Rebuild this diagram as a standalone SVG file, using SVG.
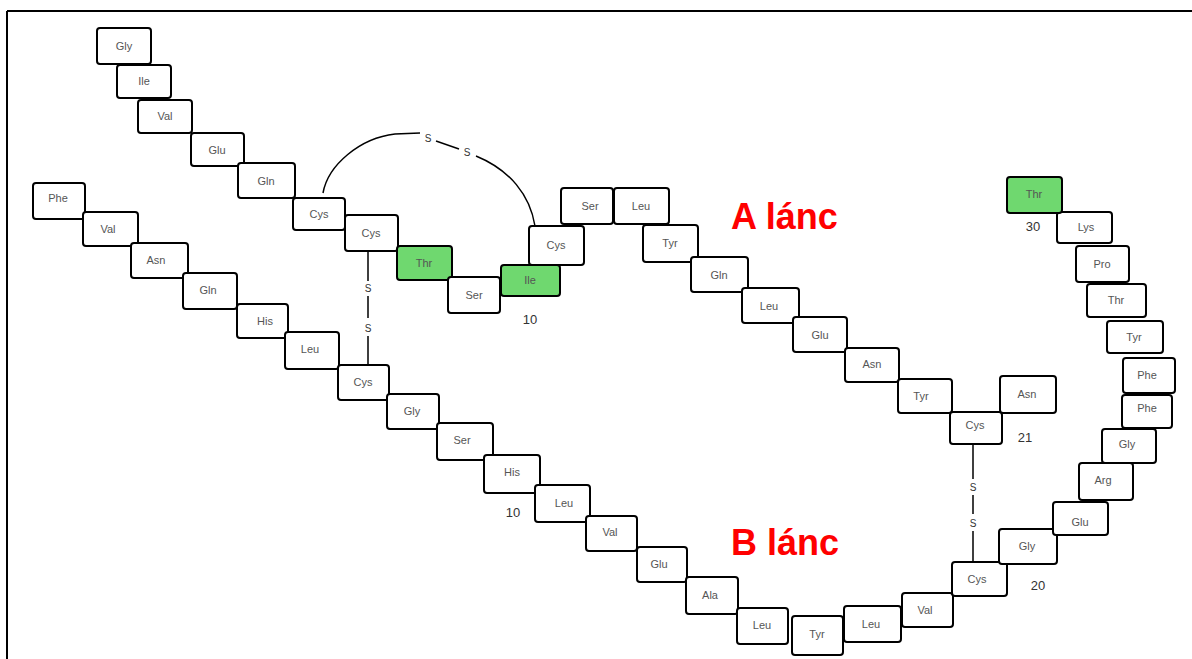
<svg xmlns="http://www.w3.org/2000/svg" width="1192" height="659" viewBox="0 0 1192 659">
<style>
.b{fill:#fff;stroke:#000;stroke-width:2}
.g{fill:#6fd86f;stroke:#000;stroke-width:2}
.t{font-family:"Liberation Sans",Arial,sans-serif;font-size:11px;fill:#555;text-anchor:middle;dominant-baseline:central}
.n{font-family:"Liberation Sans",Arial,sans-serif;font-size:13px;fill:#333;text-anchor:middle;dominant-baseline:central}
.s{font-family:"Liberation Sans",Arial,sans-serif;font-size:10px;fill:#333;text-anchor:middle;dominant-baseline:central}
.lab{font-family:"Liberation Sans",Arial,sans-serif;font-size:36px;font-weight:bold;fill:#ff0000}
.c{fill:none;stroke:#000;stroke-width:1.5}
</style>
<rect x="0" y="0" width="1192" height="659" fill="#fff"/>
<path d="M7,11 H1192 M7,11 V659" fill="none" stroke="#000" stroke-width="2"/>
<g id="connectors">
<path class="c" d="M368,251 V281 M368,296 V318 M368,336 V365"/>
<text class="s" x="368" y="288">S</text>
<text class="s" x="368" y="328">S</text>
<path class="c" d="M973,444 V479 M973,495 V514 M973,531 V562"/>
<text class="s" x="973" y="487">S</text>
<text class="s" x="973" y="523">S</text>
<path class="c" d="M323,193 C328,165 360,138 395,134 L420,133"/>
<path class="c" d="M436,141 L459,149"/>
<path class="c" d="M476,156 C510,170 530,195 535,226"/>
<text class="s" x="428" y="138">S</text>
<text class="s" x="467" y="152">S</text>
</g>
<g id="A1"><rect class="b" x="97" y="28" width="54" height="36" rx="3"/><text class="t" x="124" y="46">Gly</text></g>
<g id="A2"><rect class="b" x="117" y="65" width="54" height="33" rx="3"/><text class="t" x="144" y="81">Ile</text></g>
<g id="A3"><rect class="b" x="138" y="100" width="54" height="33" rx="3"/><text class="t" x="165" y="116">Val</text></g>
<g id="A4"><rect class="b" x="191" y="133" width="53" height="33" rx="3"/><text class="t" x="217" y="150">Glu</text></g>
<g id="A5"><rect class="b" x="238" y="163" width="57" height="35" rx="3"/><text class="t" x="266" y="181">Gln</text></g>
<g id="A6"><rect class="b" x="293" y="198" width="52" height="32" rx="3"/><text class="t" x="319" y="214">Cys</text></g>
<g id="A7"><rect class="b" x="345" y="215" width="53" height="36" rx="3"/><text class="t" x="371" y="233">Cys</text></g>
<g id="A8"><rect class="g" x="397" y="246" width="55" height="34" rx="3"/><text class="t" x="424" y="263">Thr</text></g>
<g id="A9"><rect class="b" x="448" y="277" width="52" height="36" rx="3"/><text class="t" x="474" y="295">Ser</text></g>
<g id="A10"><rect class="g" x="501" y="265" width="59" height="31" rx="3"/><text class="t" x="530" y="280">Ile</text></g>
<g id="A11"><rect class="b" x="529" y="226" width="55" height="39" rx="3"/><text class="t" x="556" y="245">Cys</text></g>
<g id="A12"><rect class="b" x="561" y="188" width="52" height="36" rx="3"/><text class="t" x="590" y="206">Ser</text></g>
<g id="A13"><rect class="b" x="614" y="188" width="55" height="36" rx="3"/><text class="t" x="641" y="206">Leu</text></g>
<g id="A14"><rect class="b" x="643" y="225" width="55" height="37" rx="3"/><text class="t" x="670" y="243">Tyr</text></g>
<g id="A15"><rect class="b" x="691" y="257" width="57" height="35" rx="3"/><text class="t" x="719" y="275">Gln</text></g>
<g id="A16"><rect class="b" x="742" y="288" width="57" height="35" rx="3"/><text class="t" x="769" y="306">Leu</text></g>
<g id="A17"><rect class="b" x="793" y="317" width="54" height="35" rx="3"/><text class="t" x="820" y="335">Glu</text></g>
<g id="A18"><rect class="b" x="845" y="348" width="54" height="34" rx="3"/><text class="t" x="872" y="364">Asn</text></g>
<g id="A19"><rect class="b" x="898" y="379" width="54" height="34" rx="3"/><text class="t" x="921" y="396">Tyr</text></g>
<g id="A20"><rect class="b" x="950" y="412" width="52" height="32" rx="3"/><text class="t" x="975" y="425">Cys</text></g>
<g id="A21"><rect class="b" x="1000" y="376" width="56" height="37" rx="3"/><text class="t" x="1027" y="394">Asn</text></g>
<g id="B1"><rect class="b" x="33" y="183" width="52" height="36" rx="3"/><text class="t" x="58" y="198">Phe</text></g>
<g id="B2"><rect class="b" x="83" y="212" width="55" height="34" rx="3"/><text class="t" x="108" y="229">Val</text></g>
<g id="B3"><rect class="b" x="131" y="243" width="57" height="35" rx="3"/><text class="t" x="156" y="260">Asn</text></g>
<g id="B4"><rect class="b" x="183" y="273" width="54" height="36" rx="3"/><text class="t" x="208" y="290">Gln</text></g>
<g id="B5"><rect class="b" x="237" y="304" width="51" height="34" rx="3"/><text class="t" x="265" y="321">His</text></g>
<g id="B6"><rect class="b" x="285" y="332" width="54" height="37" rx="3"/><text class="t" x="310" y="349">Leu</text></g>
<g id="B7"><rect class="b" x="338" y="365" width="51" height="35" rx="3"/><text class="t" x="363" y="382">Cys</text></g>
<g id="B8"><rect class="b" x="387" y="394" width="52" height="35" rx="3"/><text class="t" x="412" y="411">Gly</text></g>
<g id="B9"><rect class="b" x="437" y="423" width="56" height="37" rx="3"/><text class="t" x="462" y="440">Ser</text></g>
<g id="B10"><rect class="b" x="484" y="455" width="56" height="38" rx="3"/><text class="t" x="512" y="472">His</text></g>
<g id="B11"><rect class="b" x="535" y="485" width="55" height="37" rx="3"/><text class="t" x="564" y="503">Leu</text></g>
<g id="B12"><rect class="b" x="586" y="516" width="51" height="35" rx="3"/><text class="t" x="610" y="532">Val</text></g>
<g id="B13"><rect class="b" x="637" y="547" width="50" height="35" rx="3"/><text class="t" x="659" y="564">Glu</text></g>
<g id="B14"><rect class="b" x="686" y="577" width="52" height="37" rx="3"/><text class="t" x="710" y="595">Ala</text></g>
<g id="B15"><rect class="b" x="737" y="608" width="51" height="36" rx="3"/><text class="t" x="762" y="625">Leu</text></g>
<g id="B16"><rect class="b" x="792" y="616" width="51" height="39" rx="3"/><text class="t" x="817" y="634">Tyr</text></g>
<g id="B17"><rect class="b" x="844" y="606" width="57" height="36" rx="3"/><text class="t" x="871" y="624">Leu</text></g>
<g id="B18"><rect class="b" x="902" y="593" width="51" height="34" rx="3"/><text class="t" x="925" y="610">Val</text></g>
<g id="B19"><rect class="b" x="952" y="562" width="55" height="34" rx="3"/><text class="t" x="977" y="579">Cys</text></g>
<g id="B20"><rect class="b" x="999" y="529" width="58" height="35" rx="3"/><text class="t" x="1027" y="546">Gly</text></g>
<g id="B21"><rect class="b" x="1053" y="502" width="55" height="33" rx="3"/><text class="t" x="1080" y="522">Glu</text></g>
<g id="B22"><rect class="b" x="1079" y="463" width="54" height="37" rx="3"/><text class="t" x="1103" y="480">Arg</text></g>
<g id="B23"><rect class="b" x="1102" y="429" width="54" height="34" rx="3"/><text class="t" x="1127" y="444">Gly</text></g>
<g id="B24"><rect class="b" x="1122" y="395" width="50" height="33" rx="3"/><text class="t" x="1147" y="408">Phe</text></g>
<g id="B25"><rect class="b" x="1123" y="358" width="52" height="35" rx="3"/><text class="t" x="1147" y="375">Phe</text></g>
<g id="B26"><rect class="b" x="1107" y="321" width="56" height="32" rx="3"/><text class="t" x="1134" y="337">Tyr</text></g>
<g id="B27"><rect class="b" x="1087" y="284" width="59" height="33" rx="3"/><text class="t" x="1116" y="300">Thr</text></g>
<g id="B28"><rect class="b" x="1076" y="246" width="53" height="36" rx="3"/><text class="t" x="1102" y="264">Pro</text></g>
<g id="B29"><rect class="b" x="1057" y="212" width="55" height="31" rx="3"/><text class="t" x="1086" y="227">Lys</text></g>
<g id="B30"><rect class="g" x="1007" y="177" width="55" height="36" rx="3"/><text class="t" x="1034" y="194">Thr</text></g>
<text class="n" x="530" y="319">10</text>
<text class="n" x="1025" y="437">21</text>
<text class="n" x="513" y="512">10</text>
<text class="n" x="1038" y="585">20</text>
<text class="n" x="1033" y="226">30</text>
<text class="lab" x="731" y="229">A lánc</text>
<text class="lab" x="731" y="555">B lánc</text>
</svg>
